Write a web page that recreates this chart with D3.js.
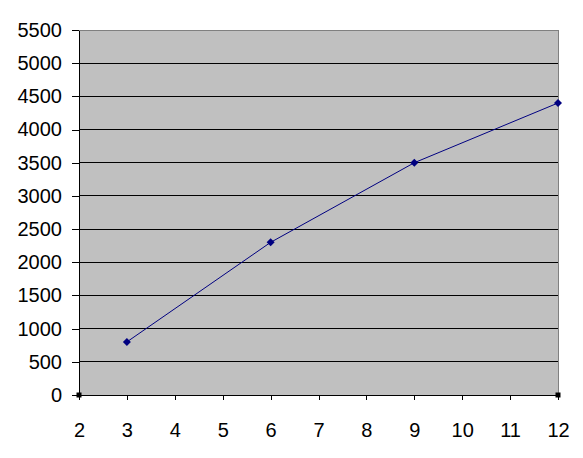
<!DOCTYPE html>
<html><head><meta charset="utf-8">
<script src="https://cdn.jsdelivr.net/npm/d3@7"></script>
<style>body{margin:0;background:#fff}svg{display:block}text{font-family:"Liberation Sans",Arial,sans-serif;font-size:20px;fill:#000}</style>
</head><body>
<script>
const xValues = [3, 6, 9, 12];
const yValues = [800, 2300, 3500, 4400];
const xTicks = [2,3,4,5,6,7,8,9,10,11,12];
const yTicks = [0,500,1000,1500,2000,2500,3000,3500,4000,4500,5000,5500];

const W = 583, H = 458;
const L = 79, R = 558, T = 30, B = 395;
const svg = d3.select("body").append("svg").attr("width", W).attr("height", H);
const x = d3.scaleLinear().domain([2, 12]).range([L, R]);
const y = d3.scaleLinear().domain([0, 5500]).range([B, T]);

svg.append("rect").attr("x", L).attr("y", T).attr("width", R - L).attr("height", B - T)
  .attr("fill", "#C0C0C0").attr("stroke", "#808080").attr("stroke-width", 1).attr("shape-rendering","crispEdges");

// gridlines
svg.append("g").selectAll("line").data(yTicks.filter(d => d > 0 && d < 5500)).join("line")
  .attr("x1", L).attr("x2", R).attr("y1", d => y(d)).attr("y2", d => y(d))
  .attr("stroke", "#000").attr("shape-rendering", "crispEdges");

// y axis
const ya = svg.append("g").attr("transform", `translate(${L},0)`)
  .call(d3.axisLeft(y).tickValues(yTicks).tickFormat(d => String(d)).tickSize(7).tickPadding(10).tickSizeOuter(0));
ya.select(".domain").attr("stroke", "#000").attr("shape-rendering", "crispEdges");
ya.selectAll(".tick line").attr("stroke", "#000").attr("shape-rendering", "crispEdges");
ya.selectAll("text").attr("font-size", 20).attr("font-family", "Liberation Sans, Arial, sans-serif").attr("fill", "#000");

// x axis
const xa = svg.append("g").attr("transform", `translate(0,${B})`)
  .call(d3.axisBottom(x).tickValues(xTicks).tickFormat(d => String(d)).tickSize(5).tickPadding(23).tickSizeOuter(0));
xa.select(".domain").attr("stroke", "#000").attr("shape-rendering", "crispEdges");
xa.selectAll(".tick line").attr("stroke", "#000").attr("shape-rendering", "crispEdges");
xa.selectAll("text").attr("font-size", 20).attr("font-family", "Liberation Sans, Arial, sans-serif").attr("fill", "#000");

// corner markers
svg.append("g").selectAll("rect").data([2, 12]).join("rect")
  .attr("x", d => x(d) - 2.5).attr("y", y(0) - 2.5).attr("width", 5).attr("height", 5)
  .attr("fill", "#000");

const pts = xValues.map((v, i) => [v, yValues[i]]);
svg.append("path").datum(pts)
  .attr("d", d3.line().x(d => x(d[0])).y(d => y(d[1])))
  .attr("fill", "none").attr("stroke", "#000080").attr("stroke-width", 1);

svg.append("g").selectAll("path").data(pts).join("path")
  .attr("transform", d => `translate(${x(d[0])},${y(d[1])})`)
  .attr("d", "M0,-4L4,0L0,4L-4,0Z").attr("fill", "#000080");
</script>
</body></html>
